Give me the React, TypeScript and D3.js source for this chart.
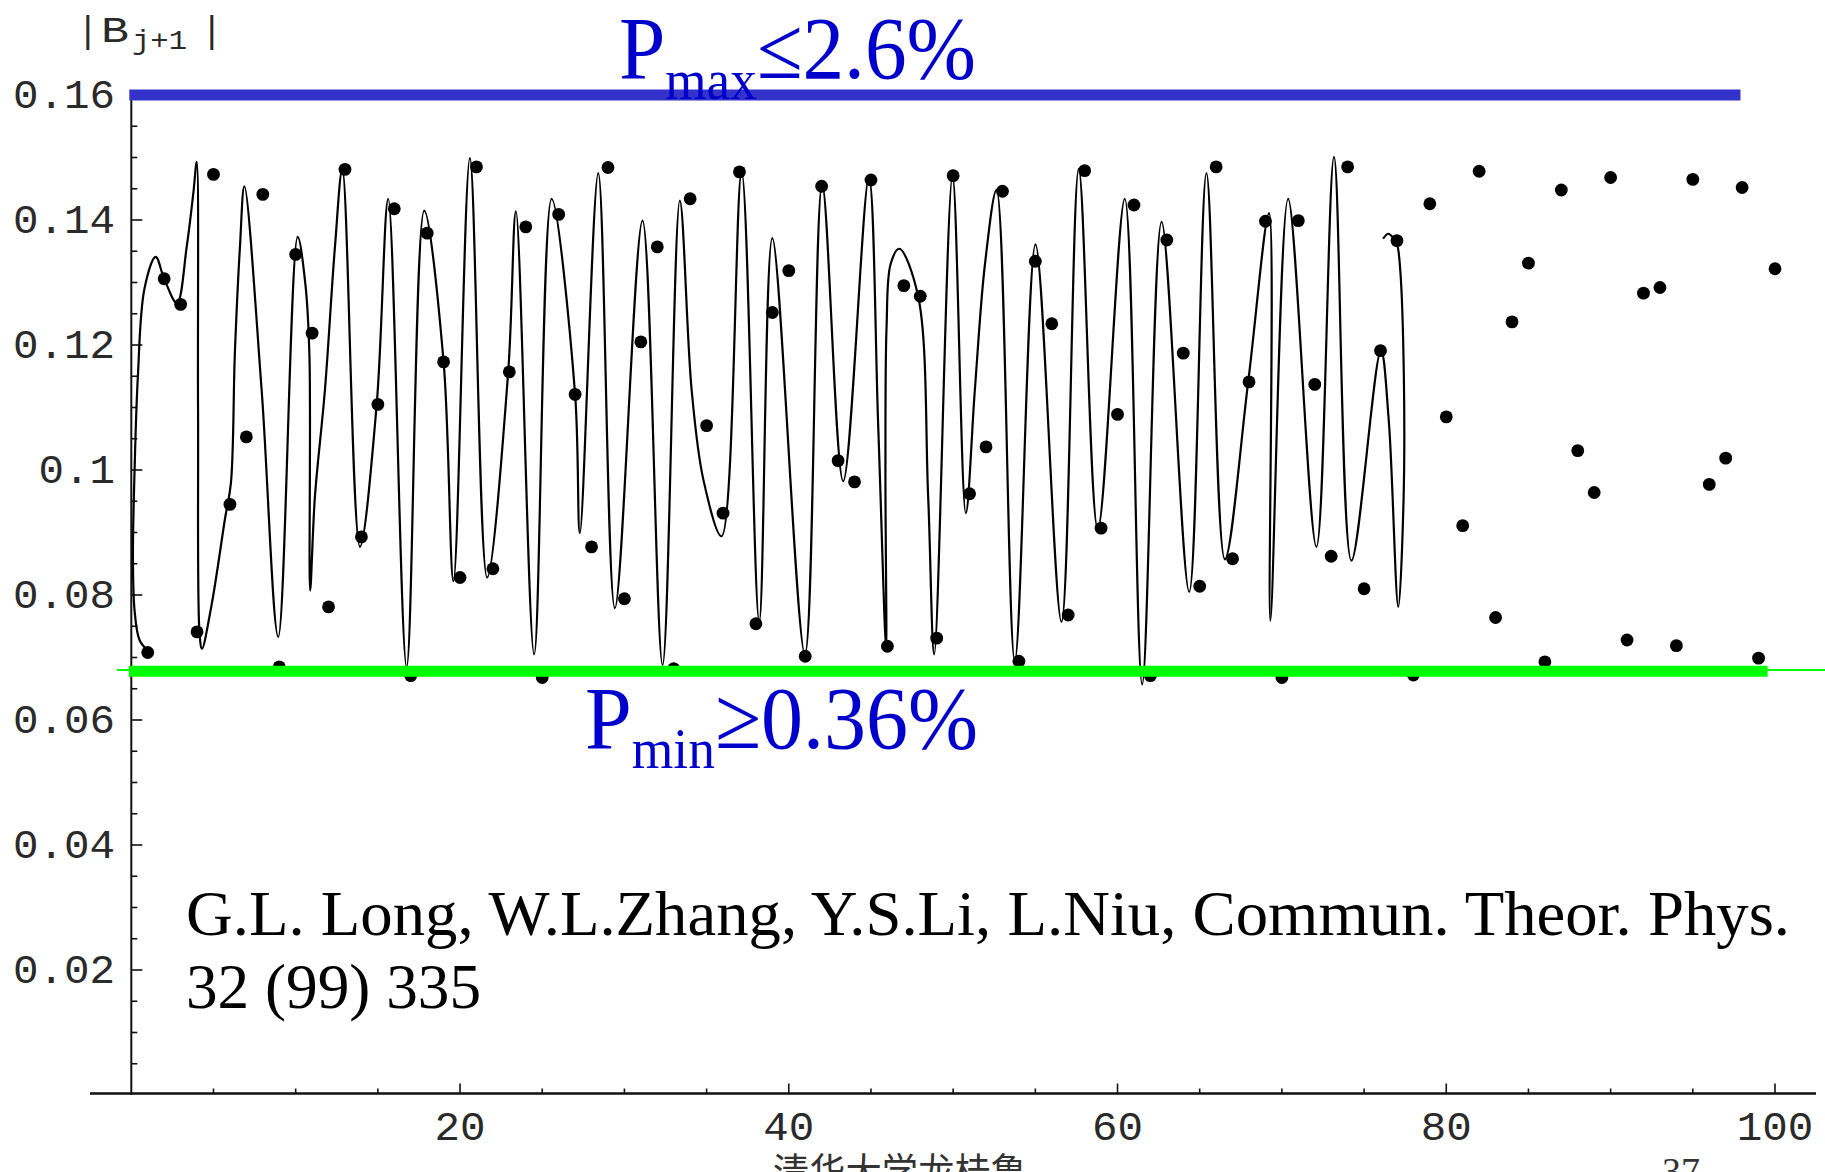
import React from 'react';
import * as d3 from 'd3';

// |B_{j+1}| at the integer steps j = 1..100
const pointValues = [
  0.0708, 0.1306, 0.1265, 0.0741, 0.1473, 0.0945, 0.1053, 0.1441, 0.0685, 0.1345,
  0.1219, 0.0781, 0.1481, 0.0893, 0.1105, 0.1418, 0.0671, 0.1379, 0.1173, 0.0828,
  0.1485, 0.0842, 0.1157, 0.1389, 0.0668, 0.1409, 0.1121, 0.0877, 0.1484, 0.0794,
  0.1205, 0.1357, 0.0682, 0.1434, 0.1071, 0.0931, 0.1477, 0.0754, 0.1252, 0.1319,
  0.0702, 0.1454, 0.1015, 0.0981, 0.1464, 0.0718, 0.1295, 0.1278, 0.0731, 0.1471,
  0.0962, 0.1037, 0.1446, 0.0694, 0.1334, 0.1234, 0.0768, 0.1479, 0.0907, 0.1089,
  0.1424, 0.0671, 0.1368, 0.1187, 0.0814, 0.1485, 0.0858, 0.1141, 0.1398, 0.0668,
  0.1399, 0.1137, 0.0862, 0.1485, 0.081, 0.1191, 0.1367, 0.0672, 0.1426, 0.1085,
  0.0911, 0.1478, 0.0764, 0.1237, 0.1331, 0.0693, 0.1448, 0.1031, 0.0964, 0.1468,
  0.0728, 0.1283, 0.1292, 0.0719, 0.1465, 0.0977, 0.1019, 0.1452, 0.0699, 0.1322,
];

const curveKnots: [number, number][] = [
  [1.0, 0.0711], [0.5, 0.0728], [0.2, 0.0775], [0.1, 0.086], [0.2, 0.1], [0.4, 0.115],
  [0.8, 0.129], [1.48, 0.1341], [2.0, 0.1306], [2.78, 0.1267], [3.37, 0.1357], [3.77, 0.1442],
  [3.98, 0.1493], [4.06, 0.11], [4.15, 0.074], [4.3, 0.0714], [4.89, 0.0785], [5.7, 0.0922],
  [6.06, 0.0979], [6.3, 0.1186], [6.61, 0.1357], [6.88, 0.1454], [7.93, 0.1128], [8.94, 0.0733],
  [10.12, 0.1373], [10.6, 0.1295], [10.84, 0.118], [10.88, 0.0807], [11.17, 0.0957],
  [11.78, 0.1128], [12.39, 0.1357], [12.84, 0.1481], [13.91, 0.0877], [14.93, 0.1105],
  [15.63, 0.1434], [16.75, 0.0685], [17.82, 0.1415], [19.0, 0.1173], [19.6, 0.0822],
  [20.6, 0.1499], [21.65, 0.0828], [22.93, 0.1157], [23.4, 0.1414], [24.51, 0.0705],
  [25.57, 0.1434], [27.0, 0.1121], [27.29, 0.0899], [28.41, 0.1475], [29.42, 0.0779],
  [31.1, 0.1399], [32.32, 0.0688], [33.37, 0.1431], [34.09, 0.1128], [34.8, 0.0985],
  [35.91, 0.0894], [37.13, 0.1477], [38.2, 0.0757], [39.0, 0.1371], [40.98, 0.0705],
  [42.03, 0.1457], [43.31, 0.0982], [44.87, 0.1468], [45.44, 0.1071], [45.92, 0.0712],
  [45.88, 0.1], [45.95, 0.123], [46.2, 0.133], [46.72, 0.1354], [47.87, 0.1278],
  [48.48, 0.0957], [48.85, 0.0705], [49.96, 0.1471], [50.77, 0.0931], [51.32, 0.1128],
  [51.93, 0.1328], [52.64, 0.1448], [53.75, 0.0694], [55.01, 0.1361], [56.59, 0.0757],
  [57.64, 0.1482], [58.8, 0.0905], [60.44, 0.1434], [61.5, 0.0657], [62.68, 0.1397],
  [64.36, 0.0805], [65.41, 0.1475], [66.53, 0.0857], [67.95, 0.1141], [69.22, 0.1411],
  [69.3, 0.0759], [70.38, 0.1434], [72.1, 0.0877], [73.17, 0.1501], [74.23, 0.0855],
  [76.02, 0.1191], [76.5, 0.108], [77.08, 0.0781], [77.4, 0.095], [77.42, 0.115],
  [77.2, 0.132], [77.0, 0.1362], [76.76, 0.1372], [76.46, 0.1378], [76.16, 0.137],
];

const xTickValues = [20, 40, 60, 80, 100];
const yTickValues = [0.02, 0.04, 0.06, 0.08, 0.1, 0.12, 0.14, 0.16];

// bounds drawn across the plot
const pMaxLevel = 0.16;
const pMaxSpan = [0, 97.9];
const pMinLevel = 0.0678;
const pMinSpan = [-0.15, 99.55];

const W = 1825;
const H = 1172;

export default function App() {
  const x = d3.scaleLinear().domain([0, 100]).range([131.3, 1775]);
  const y = d3.scaleLinear().domain([0, 0.16]).range([1095, 95]);

  const curvePath = d3
    .line<[number, number]>()
    .x((d) => x(d[0]))
    .y((d) => y(d[1]))
    .curve(d3.curveCatmullRom.alpha(0.5))(curveKnots);

  const xMinor = x.ticks(20).filter((t) => t > 0);
  const yMinor = y.ticks(32).filter((t) => t > 0);
  const fmt = (v: number) => String(+v.toFixed(2));

  const monoFont = '"Liberation Mono", "Courier New", monospace';
  const serifFont = '"Liberation Serif", "Times New Roman", serif';
  const inkGray = '#2a2a2a';

  return (
    <svg
      width={W}
      height={H}
      style={{ position: 'absolute', left: 0, top: 0, background: '#fff' }}
    >
      <rect x={0} y={0} width={W} height={H} fill="#fff" />

      {/* axes */}
      <line x1={x(0)} x2={x(0)} y1={y(0.1595)} y2={y(0)} stroke="#111" strokeWidth={2} />
      <line x1={90} x2={1816} y1={y(0) - 1.5} y2={y(0) - 1.5} stroke="#111" strokeWidth={2.5} />

      {yMinor.map((t) => {
        const major = yTickValues.some((m) => Math.abs(m - t) < 1e-6);
        return (
          <line
            key={'yt' + t}
            x1={x(0)}
            x2={x(0) + (major ? 11 : 6)}
            y1={y(t)}
            y2={y(t)}
            stroke="#111"
            strokeWidth={1.6}
          />
        );
      })}
      {xMinor.map((t) => {
        const major = xTickValues.includes(t);
        return (
          <line
            key={'xt' + t}
            x1={x(t)}
            x2={x(t)}
            y1={y(0) - 1.5}
            y2={y(0) - 1.5 - (major ? 10 : 5)}
            stroke="#111"
            strokeWidth={1.6}
          />
        );
      })}

      {yTickValues.map((t) => (
        <text
          key={'yl' + t}
          x={115}
          y={y(t) + 12.5}
          textAnchor="end"
          fontFamily={monoFont}
          fontSize={40}
          fill={inkGray}
          textLength={fmt(t).length * 25.5}
          lengthAdjust="spacingAndGlyphs"
        >
          {fmt(t)}
        </text>
      ))}
      {xTickValues.map((t) => (
        <text
          key={'xl' + t}
          x={x(t)}
          y={1140}
          textAnchor="middle"
          fontFamily={monoFont}
          fontSize={40}
          fill={inkGray}
          textLength={String(t).length * 25.5}
          lengthAdjust="spacingAndGlyphs"
        >
          {t}
        </text>
      ))}

      {/* axis title |B_{j+1}| */}
      <g fontFamily={monoFont} fill={inkGray}>
        <text x={77} y={42} fontSize={36}>
          |
        </text>
        <text x={101} y={42} fontSize={36} textLength={28} lengthAdjust="spacingAndGlyphs">
          B
        </text>
        <text x={132} y={49} fontSize={27} textLength={55} lengthAdjust="spacingAndGlyphs">
          j+1
        </text>
        <text x={201} y={42} fontSize={36}>
          |
        </text>
      </g>

      {/* curve and points */}
      <path d={curvePath || ''} fill="none" stroke="#000" strokeWidth={2.2} />
      {pointValues.map((v, i) => (
        <circle key={'p' + i} cx={x(i + 1)} cy={y(v)} r={6.4} fill="#000" />
      ))}

      {/* bounds */}
      <line
        x1={x(pMaxSpan[0]) - 2}
        x2={x(pMaxSpan[1])}
        y1={y(pMaxLevel)}
        y2={y(pMaxLevel)}
        stroke="#3333CC"
        strokeWidth={11}
      />
      <line x1={117} x2={W} y1={y(pMinLevel) - 1.3} y2={y(pMinLevel) - 1.3} stroke="#00FF00" strokeWidth={2} />
      <line
        x1={x(pMinSpan[0])}
        x2={x(pMinSpan[1])}
        y1={y(pMinLevel)}
        y2={y(pMinLevel)}
        stroke="#00FF00"
        strokeWidth={11}
      />

      {/* annotations */}
      <text
        x={619}
        y={78}
        fontFamily={serifFont}
        fontSize={88}
        fill="#0000CC"
        textLength={357}
        lengthAdjust="spacingAndGlyphs"
      >
        P
        <tspan fontSize={56} dy={21}>
          max
        </tspan>
        <tspan fontSize={88} dy={-21}>
          ≤2.6%
        </tspan>
      </text>
      <text
        x={585}
        y={748}
        fontFamily={serifFont}
        fontSize={88}
        fill="#0000CC"
        textLength={393}
        lengthAdjust="spacingAndGlyphs"
      >
        P
        <tspan fontSize={56} dy={20}>
          min
        </tspan>
        <tspan fontSize={88} dy={-20}>
          ≥0.36%
        </tspan>
      </text>

      <text
        x={186}
        y={935}
        fontFamily={serifFont}
        fontSize={64}
        fill="#000"
        textLength={1604}
        lengthAdjust="spacingAndGlyphs"
      >
        G.L. Long, W.L.Zhang, Y.S.Li, L.Niu, Commun. Theor. Phys.
      </text>
      <text
        x={186}
        y={1008}
        fontFamily={serifFont}
        fontSize={64}
        fill="#000"
        textLength={295}
        lengthAdjust="spacingAndGlyphs"
      >
        32 (99) 335
      </text>

      {/* footer, cut by the page edge */}
      <text
        x={773}
        y={1187}
        fontFamily='"Noto Sans CJK SC", sans-serif'
        fontSize={40}
        fill="#333"
        textLength={254}
        lengthAdjust="spacingAndGlyphs"
      >
        清华大学龙桂鲁
      </text>
      <text x={1662} y={1184} fontFamily={serifFont} fontSize={38} fill="#333">
        37
      </text>
    </svg>
  );
}
